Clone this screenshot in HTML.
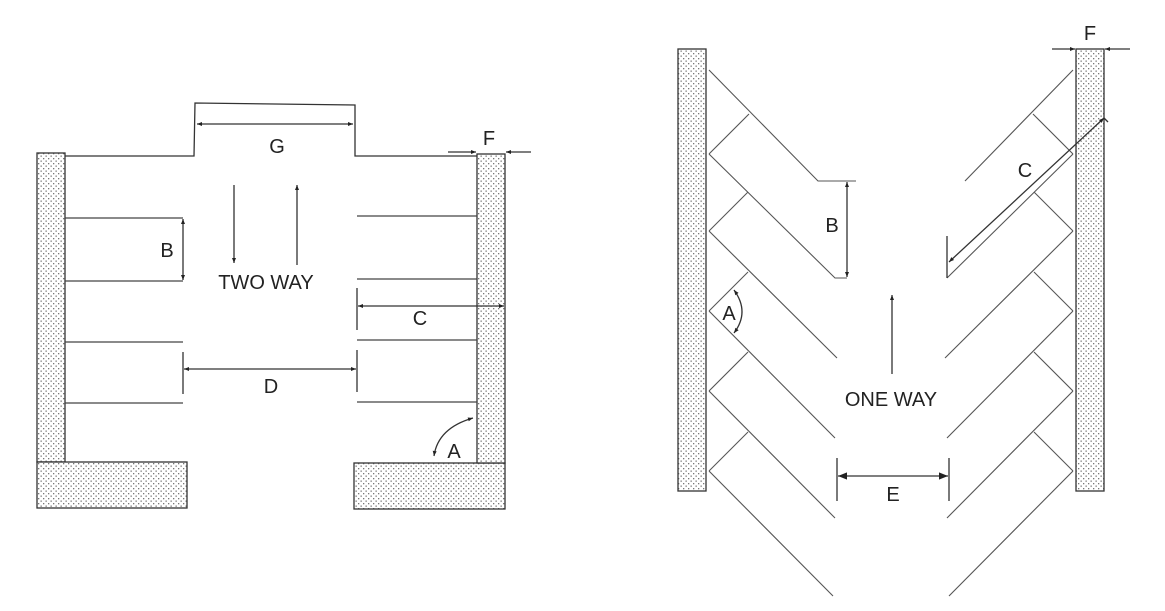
<!DOCTYPE html>
<html><head><meta charset="utf-8"><style>
html,body{margin:0;padding:0;background:#fff;}
svg{display:block;}
text{font-family:"Liberation Sans",sans-serif;fill:#222;}
</style></head><body>
<svg width="1165" height="611" viewBox="0 0 1165 611" xmlns="http://www.w3.org/2000/svg">
<defs>
<pattern id="dots" width="5" height="5" patternUnits="userSpaceOnUse">
<rect width="5" height="5" fill="#fff"/>
<rect x="0.5" y="0.5" width="1.3" height="1.3" fill="#777"/>
<rect x="3" y="3" width="1.3" height="1.3" fill="#777"/>
</pattern>
<marker id="ah" viewBox="0 0 10 10" refX="10" refY="5" markerWidth="7" markerHeight="5" orient="auto-start-reverse" markerUnits="userSpaceOnUse">
<path d="M0,1 L10,5 L0,9 z" fill="#222"/>
</marker>
<marker id="ahb" viewBox="0 0 10 10" refX="10" refY="5" markerWidth="18" markerHeight="9" orient="auto-start-reverse" markerUnits="userSpaceOnUse">
<path d="M0,1 L10,5 L0,9 z" fill="#222"/>
</marker>
</defs>

<!-- LEFT DIAGRAM -->
<g stroke="#333" stroke-width="1.3" fill="none">
<rect x="37" y="153" width="28" height="309" fill="url(#dots)"/>
<rect x="37" y="462" width="150" height="46" fill="url(#dots)"/>
<rect x="354" y="463" width="151" height="46" fill="url(#dots)"/>
<rect x="477" y="154" width="28" height="309" fill="url(#dots)"/>
<polyline points="65,156 194,156 195,103 355,105 355,156 477,156"/>
<line x1="197" y1="124" x2="353" y2="124" marker-start="url(#ah)" marker-end="url(#ah)"/>
<line x1="448" y1="152" x2="476" y2="152" marker-end="url(#ah)"/>
<line x1="531" y1="152" x2="506" y2="152" marker-end="url(#ah)"/>
<g stroke="#444" stroke-width="1.2">
<line x1="65" y1="218" x2="183" y2="218"/>
<line x1="65" y1="281" x2="183" y2="281"/>
<line x1="65" y1="342" x2="183" y2="342"/>
<line x1="65" y1="403" x2="183" y2="403"/>
<line x1="357" y1="216" x2="477" y2="216"/>
<line x1="357" y1="279" x2="477" y2="279"/>
<line x1="357" y1="340" x2="477" y2="340"/>
<line x1="357" y1="402" x2="477" y2="402"/>
</g>
<line x1="183" y1="219" x2="183" y2="280" marker-start="url(#ah)" marker-end="url(#ah)"/>
<line x1="357" y1="288" x2="357" y2="330"/>
<line x1="358" y1="306" x2="504" y2="306" marker-start="url(#ah)" marker-end="url(#ah)"/>
<line x1="183" y1="352" x2="183" y2="394"/>
<line x1="357" y1="350" x2="357" y2="392"/>
<line x1="184" y1="369" x2="356" y2="369" marker-start="url(#ah)" marker-end="url(#ah)"/>
<line x1="234" y1="185" x2="234" y2="263" marker-end="url(#ah)"/>
<line x1="297" y1="265" x2="297" y2="185" marker-end="url(#ah)"/>
<path d="M434,456 Q438,428 473,418" marker-start="url(#ah)" marker-end="url(#ah)"/>
</g>
<g font-size="20" text-anchor="middle">
<text x="277" y="153">G</text>
<text x="489" y="145">F</text>
<text x="167" y="257">B</text>
<text x="266" y="289">TWO WAY</text>
<text x="420" y="325">C</text>
<text x="271" y="393">D</text>
<text x="454" y="458">A</text>
</g>

<!-- RIGHT DIAGRAM -->
<g stroke="#333" stroke-width="1.3" fill="none">
<rect x="678" y="49" width="28" height="442" fill="url(#dots)"/>
<rect x="1076" y="49" width="28" height="442" fill="url(#dots)"/>
<line x1="1052" y1="49" x2="1075" y2="49" marker-end="url(#ah)"/>
<line x1="1130" y1="49" x2="1105" y2="49" marker-end="url(#ah)"/>
<g stroke="#555" stroke-width="1.1">
<polyline points="709,70 818,181 856,181"/>
<polyline points="709,154 835,278 847,278"/>
<line x1="709" y1="154" x2="749" y2="114"/>
<line x1="709" y1="231" x2="837" y2="358"/>
<line x1="709" y1="231" x2="748" y2="192"/>
<line x1="709" y1="311" x2="835" y2="438"/>
<line x1="709" y1="311" x2="748" y2="272"/>
<line x1="709" y1="391" x2="835" y2="518"/>
<line x1="709" y1="391" x2="748" y2="352"/>
<line x1="709" y1="471" x2="833" y2="596"/>
<line x1="709" y1="471" x2="748" y2="432"/>
<line x1="1073" y1="70" x2="965" y2="181"/>
<line x1="1073" y1="154" x2="947" y2="278"/>
<line x1="1073" y1="154" x2="1033" y2="114"/>
<line x1="1073" y1="231" x2="945" y2="358"/>
<line x1="1073" y1="231" x2="1034" y2="192"/>
<line x1="1073" y1="311" x2="947" y2="438"/>
<line x1="1073" y1="311" x2="1034" y2="272"/>
<line x1="1073" y1="391" x2="947" y2="518"/>
<line x1="1073" y1="391" x2="1034" y2="352"/>
<line x1="1073" y1="471" x2="949" y2="596"/>
<line x1="1073" y1="471" x2="1034" y2="432"/>
</g>
<line x1="847" y1="182" x2="847" y2="277" marker-start="url(#ah)" marker-end="url(#ah)"/>
<line x1="947" y1="236" x2="947" y2="278"/>
<line x1="949" y1="262" x2="1104" y2="118" marker-start="url(#ah)" marker-end="url(#ah)"/>
<line x1="1104" y1="118" x2="1108" y2="122"/>
<path d="M734,290 Q750,312 734,333" marker-start="url(#ah)" marker-end="url(#ah)"/>
<line x1="892" y1="374" x2="892" y2="295" marker-end="url(#ah)"/>
<line x1="837" y1="458" x2="837" y2="501"/>
<line x1="949" y1="458" x2="949" y2="501"/>
<line x1="838" y1="476" x2="948" y2="476" marker-start="url(#ahb)" marker-end="url(#ahb)"/>
</g>
<g font-size="20" text-anchor="middle">
<text x="1090" y="40">F</text>
<text x="832" y="232">B</text>
<text x="1025" y="177">C</text>
<text x="729" y="320">A</text>
<text x="891" y="406">ONE WAY</text>
<text x="893" y="501">E</text>
</g>
</svg>
</body></html>
